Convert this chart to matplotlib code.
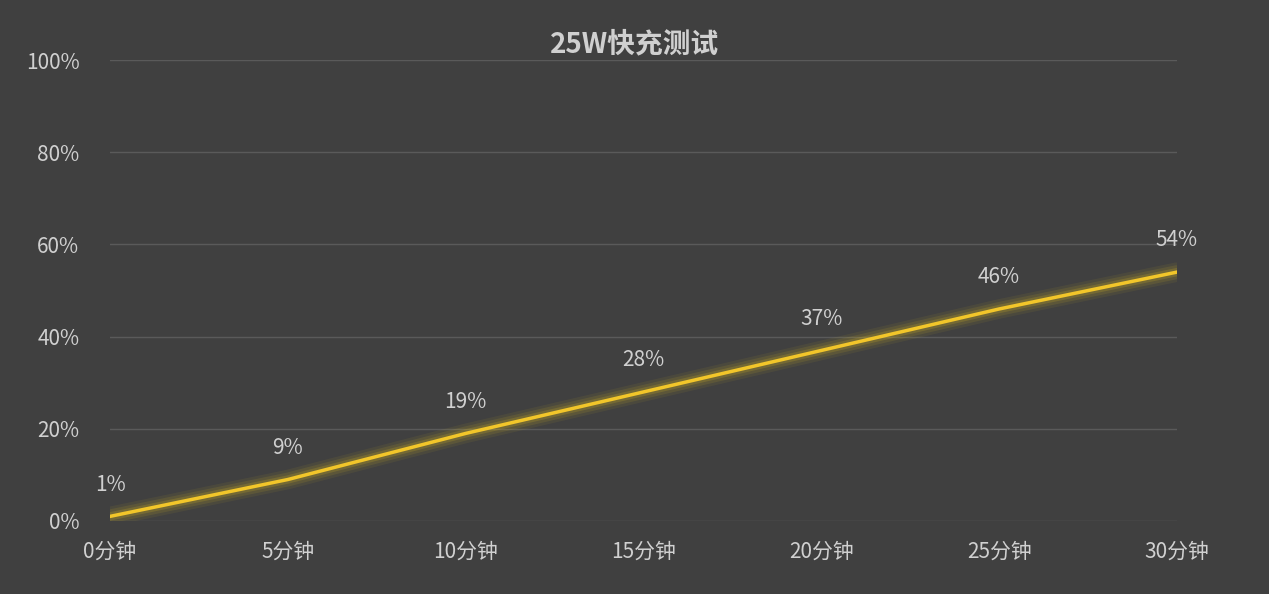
import matplotlib.pyplot as plt

plt.rcParams['font.family'] = ['Noto Sans CJK SC', 'DejaVu Sans']

minutes = [0, 5, 10, 15, 20, 25, 30]
tick_labels = ["0分钟", "5分钟", "10分钟", "15分钟", "20分钟", "25分钟", "30分钟"]
charge = [1, 9, 19, 28, 37, 46, 54]

bg = "#404040"
fig = plt.figure(figsize=(12.69, 5.94), dpi=100, facecolor=bg)
ax = fig.add_axes([0.0867, 0.1229, 0.8408, 0.776], facecolor=bg)

# soft glow under the line
for lw, a in [(14, 0.08), (10, 0.12), (6, 0.2)]:
    ax.plot(minutes, charge, color="#d8b820", lw=lw, alpha=a, solid_capstyle="round")
ax.plot(minutes, charge, color="#f2c62a", lw=2.5)

for x, y in zip(minutes, charge):
    ax.text(x, y + 4.5, f"{y}%", ha="center", va="bottom", color="#d0d0d0",
            fontsize=15, fontweight="medium")

ax.set_xlim(0, 30)
ax.set_ylim(0, 100)
ax.set_xticks(minutes)
ax.set_xticklabels(tick_labels, fontweight="medium")
ax.set_yticks(range(0, 101, 20))
ax.set_yticklabels([f"{v}%" for v in range(0, 101, 20)], fontweight="medium")
ax.tick_params(colors="#d0d0d0", labelsize=15, length=0)
ax.tick_params(axis="x", pad=14)
ax.tick_params(axis="y", pad=22)
ax.grid(axis="y", color="#5a5a5a", lw=1)
for s in ax.spines.values():
    s.set_visible(False)

fig.text(0.5, 0.925, "25W快充测试", ha="center", va="center", color="#d0d0d0",
         fontsize=20, fontweight="bold")

fig.savefig("out.png", dpi=100, facecolor=bg)
